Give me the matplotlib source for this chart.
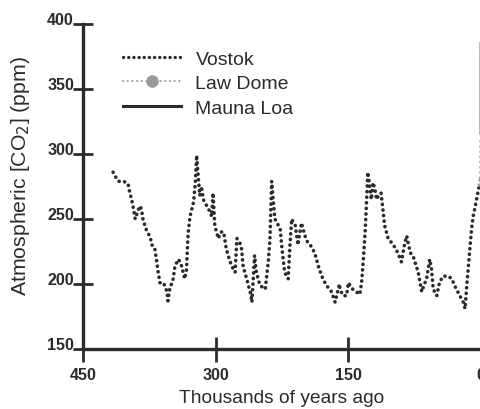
import matplotlib
matplotlib.use("Agg")
import matplotlib.pyplot as plt
from matplotlib.lines import Line2D

# Vostok ice core CO2 record (age in thousands of years ago, ppm)
vostok_age = [416, 412, 410, 404, 399, 397, 395, 393, 391, 386, 384, 382, 378, 374,
              372, 369, 367, 365, 363, 359, 355, 354, 352, 348, 346, 342, 339, 335,
              333, 332, 331, 329, 325, 323, 321.5, 320, 318, 316, 314, 310, 306,
              304.5, 303, 301, 297, 294, 291, 288, 285, 282, 278, 276, 273, 271,
              269, 265, 261, 259, 256, 254, 250, 244, 240.5, 238.6, 237.5, 236.7,
              235, 233, 229, 227, 225, 222, 218, 216, 214, 212, 210, 207, 203, 199,
              196, 193, 188, 184, 180, 175, 171, 169, 165, 160, 159.5, 156, 152,
              150, 148, 145, 141, 137, 135, 133, 131, 129.3, 128, 126, 124, 122,
              120, 118, 116, 113, 111, 109, 105, 99, 94, 90, 86, 84, 80, 77, 71,
              67, 64, 61.5, 58, 56, 54, 50, 47, 43, 37, 33, 30, 24, 20, 18, 16.4,
              14.5, 12.6, 10.7, 8.9, 7, 5, 3.3, 2.2]
vostok_co2 = [286, 281, 279, 279, 277, 270, 265, 258, 250, 260, 258, 249, 241, 236,
              230, 228, 219, 209, 201, 201, 194, 187, 196, 204, 214, 219, 215, 204,
              211, 227, 240, 252, 263, 278, 299, 285, 268, 275, 265, 260, 255,
              252, 270, 245, 235, 240, 240, 227, 220, 214, 209, 235, 232, 229,
              214, 204, 194, 186, 222, 209, 199, 196, 217, 235, 260, 279,
              265, 250, 245, 242, 227, 209, 204, 230, 250, 247, 245, 230, 247, 237,
              232, 230, 224, 214, 206, 199, 196, 194, 186, 200, 196, 191, 191,
              201, 199, 196, 194, 192, 201, 219, 240, 265, 286, 276, 265, 278,
              273, 265, 268, 270, 258, 245, 235, 230, 224, 217, 232, 237, 224, 222, 209,
              194, 200, 204, 219, 212, 196, 191, 201, 206, 206, 204, 199, 191, 186, 181, 196,
              212, 227, 242, 252, 258, 265, 271, 275]

# Law Dome ice core (last two millennia)
lawdome_age = [2.0, 1.6, 1.2, 0.8, 0.4, 0.2, 0.1, 0.06]
lawdome_co2 = [276, 278, 280, 281, 280, 285, 296, 310]

# Mauna Loa direct measurements
maunaloa_age = [0.052, 0.04, 0.03, 0.02, 0.01, 0.0]
maunaloa_co2 = [316, 326, 339, 354, 370, 385]

legend_labels = ["Vostok", "Law Dome", "Mauna Loa"]
x_ticks = [450, 300, 150, 0]
y_ticks = [150, 200, 250, 300, 350, 400]

dark = "#2b2b2b"
grey = "#9a9a9a"
plt.rcParams["font.family"] = ["Liberation Sans", "DejaVu Sans"]

fig = plt.figure(figsize=(4.8, 4.1), dpi=100)
ax = fig.add_axes([83 / 480, 1 - 350 / 410, 398 / 480, 325 / 410])

dot = (0, (0.05, 1.5))
ax.plot(vostok_age, vostok_co2, color=dark, lw=2.6, linestyle=dot,
        dash_capstyle="round")
ax.plot(lawdome_age, lawdome_co2, color=grey, lw=2.4, linestyle=dot,
        dash_capstyle="round")
ax.plot(maunaloa_age, maunaloa_co2, color=grey, lw=2.4)

ax.set_xlim(450, 0)
ax.set_ylim(150, 400)
ax.set_xticks(x_ticks)
ax.set_yticks(y_ticks)

for side in ("top", "right"):
    ax.spines[side].set_visible(False)
for side in ("left", "bottom"):
    ax.spines[side].set_linewidth(2.4)
    ax.spines[side].set_color(dark)

ax.tick_params(axis="x", direction="inout", length=18, width=2.0, color=dark,
               labelsize=11.5, labelcolor=dark, pad=4)
ax.tick_params(axis="y", direction="inout", length=15, width=2.0, color=dark,
               labelsize=11.5, labelcolor=dark, pad=-1)
for lab in ax.get_yticklabels():
    lab.set_verticalalignment("baseline")
    lab.set_fontweight("bold")
for lab in ax.get_xticklabels():
    lab.set_fontweight("bold")

ax.set_xlabel("Thousands of years ago", fontsize=13.8, color=dark, labelpad=5)
ax.set_ylabel("Atmospheric [CO$_2$] (ppm)", fontsize=15.3, color=dark)
ax.yaxis.set_label_coords(-0.128, 0.535)

handles = [
    Line2D([], [], color=dark, lw=2.4, linestyle=dot, dash_capstyle="round"),
    Line2D([], [], color=grey, lw=1.5, linestyle=(0, (0.05, 2.2)),
           dash_capstyle="round", marker="o", markersize=8,
           markerfacecolor=grey, markeredgecolor=grey),
    Line2D([], [], color=dark, lw=2.2),
]
leg = ax.legend(handles, legend_labels, loc="upper left",
                bbox_to_anchor=(0.075, 0.95), frameon=False, fontsize=14,
                handlelength=3.0, handletextpad=0.75, labelspacing=0.36,
                borderpad=0)
for t in leg.get_texts():
    t.set_color(dark)

fig.savefig("out.png", dpi=100, facecolor="white")
